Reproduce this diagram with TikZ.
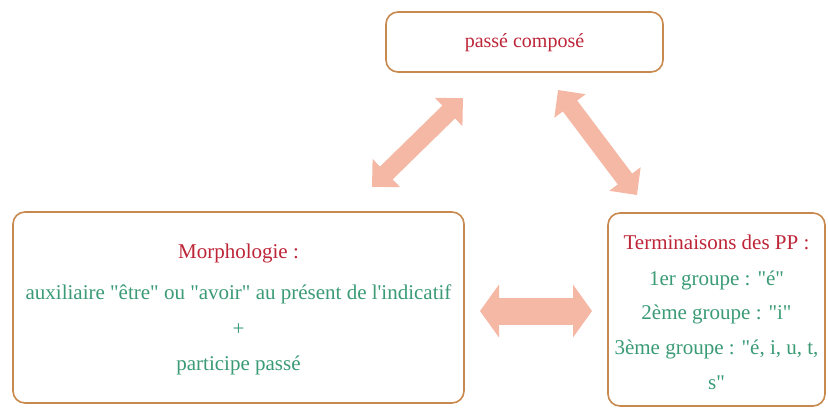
\documentclass[tikz,border=0pt]{standalone}
\usepackage{fontspec}
\setmainfont{Liberation Serif}[Ligatures=TeXOff]
\usetikzlibrary{arrows.meta}
\definecolor{boxline}{HTML}{C8894F}
\definecolor{titlered}{HTML}{BE2538}
\definecolor{bodygreen}{HTML}{3A9B76}
\definecolor{arrowfill}{HTML}{F5B8A4}
\tikzset{
  box/.style={draw=boxline, line width=1.6pt, fill=white, rounded corners=12pt},
  titletext/.style={text=titlered, font=\fontsize{21}{25}\selectfont, inner sep=0pt},
  bodytext/.style={text=bodygreen, font=\fontsize{21}{25}\selectfont, inner sep=0pt},
  diagarrow/.style={draw=arrowfill, line width=18pt,
     {Triangle[width=38pt,length=20pt]}-{Triangle[width=38pt,length=20pt]}},
  horarrow/.style={draw=arrowfill, line width=27pt,
     {Triangle[width=52pt,length=19pt]}-{Triangle[width=52pt,length=19pt]}}
}
\begin{document}
\begin{tikzpicture}[x=1pt,y=-1pt]
\useasboundingbox (0,0) rectangle (828,408);
\fill[white] (0,0) rectangle (828,408);
% boxes
\draw[box] (386,12) rectangle (663,72);
\node[inner sep=0pt] (top) at (524.5,42) {};
\draw[box] (13,212) rectangle (464,403);
\node[inner sep=0pt] (morph) at (238.5,307) {};
\draw[box] (608,213) rectangle (825,406);
\node[inner sep=0pt] (term) at (716.5,310) {};
% texts
\node[titletext, font=\fontsize{20}{24}\selectfont] (toptext) at (524.5,43) {passé composé};
\node[titletext] (m1) at (238.5,253) {Morphologie :};
\node[bodytext] (m2) at (238.5,294) {auxiliaire "être" ou "avoir" au présent de l'indicatif};
\node[bodytext] (m3) at (238.5,330) {+};
\node[bodytext] (m4) at (238.5,365) {participe passé};
\node[titletext] (t1) at (716.5,242) {Terminaisons des PP :};
\node[bodytext] (t2) at (716.5,280) {1er groupe : "é"};
\node[bodytext] (t3) at (716.5,314) {2ème groupe : "i"};
\node[bodytext] (t4) at (716.5,349) {3ème groupe : "é, i, u, t,};
\node[bodytext] (t5) at (716.5,383) {s"};
% arrows
\coordinate (la) at (372,187);
\coordinate (lb) at (463,98);
\coordinate (ra) at (558,90);
\coordinate (rb) at (637,195);
\coordinate (ha) at (480,311);
\coordinate (hb) at (592,311);
\draw[diagarrow] (la) -- (lb);
\draw[diagarrow] (ra) -- (rb);
\draw[horarrow] (ha) -- (hb);
\end{tikzpicture}
\end{document}
